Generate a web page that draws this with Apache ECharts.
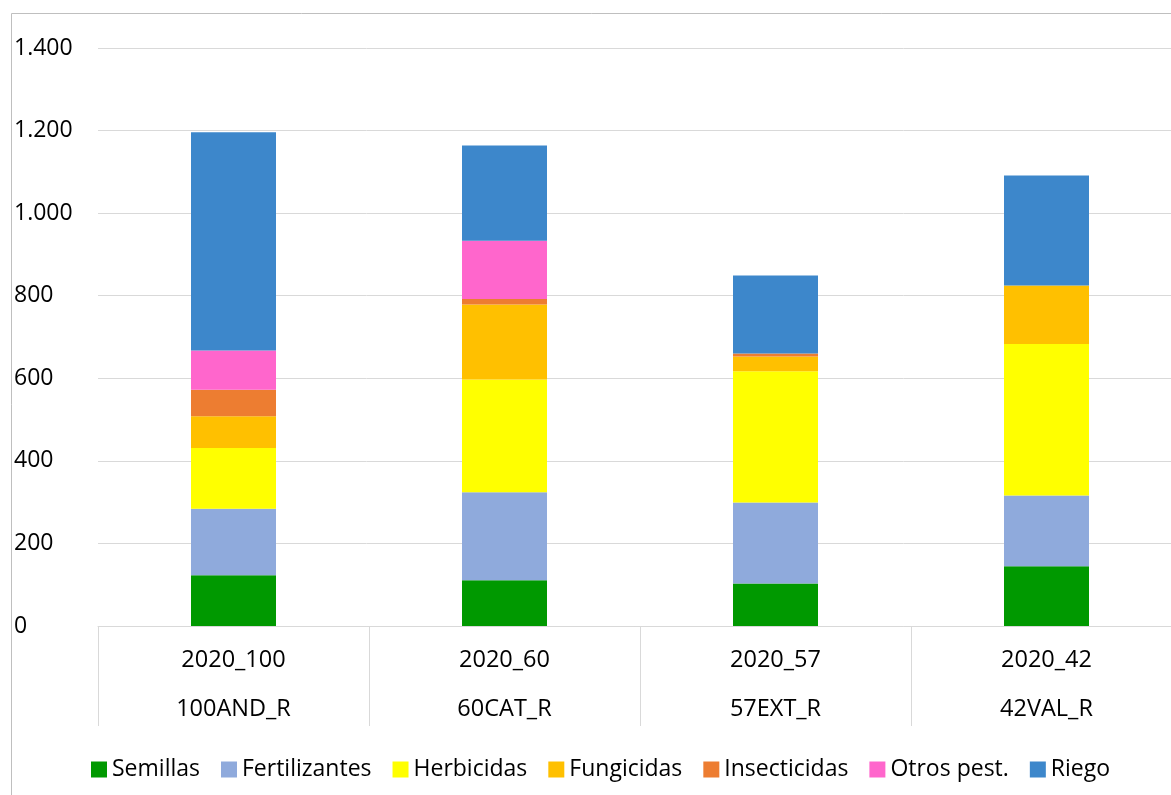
<!DOCTYPE html>
<html><head><meta charset="utf-8">
<script src="https://cdn.jsdelivr.net/npm/echarts@6/dist/echarts.min.js"></script>
<style>html,body{margin:0;padding:0;background:#fff}#c{width:1171px;height:795px}</style>
</head><body><div id="c"></div>
<script>
const categories = ['2020_100\n100AND_R', '2020_60\n60CAT_R', '2020_57\n57EXT_R', '2020_42\n42VAL_R'];
const semillas = [123, 111, 103, 145];
const fertilizantes = [161, 213, 196, 171];
const herbicidas = [147, 273, 318, 367];
const fungicidas = [77, 182, 36, 142];
const insecticidas = [64, 13, 7, 0];
const otros = [95, 141, 0, 0];
const riego = [529, 231, 189, 266];
const seriesNames = ['Semillas', 'Fertilizantes', 'Herbicidas', 'Fungicidas', 'Insecticidas', 'Otros pest.', 'Riego'];
const seriesData = [semillas, fertilizantes, herbicidas, fungicidas, insecticidas, otros, riego];
const colors = ['#009900', '#8faadc', '#ffff00', '#ffc000', '#ed7d31', '#ff66cc', '#3d87cb'];

const font = '"Open Sans", "Noto Sans", sans-serif';
const chart = echarts.init(document.getElementById('c'));
chart.setOption({
  animation: false,
  textStyle: { fontFamily: font },
  graphic: [{
    type: 'rect', shape: { x: 11.5, y: 13.5, width: 1300, height: 900 },
    style: { fill: 'none', stroke: '#bfbfbf', lineWidth: 1 }, silent: true, z: -10
  }],
  grid: { left: 98, width: 1084, top: 48, bottom: 169, outerBoundsMode: 'none', containLabel: false },
  legend: {
    bottom: 9, left: 86, itemWidth: 16, itemHeight: 16, itemGap: 21,
    icon: 'rect',
    textStyle: { fontSize: 23, color: '#000', fontFamily: font },
    data: seriesNames
  },
  xAxis: {
    type: 'category', data: categories,
    axisLine: { show: true, lineStyle: { color: '#d9d9d9' } },
    axisTick: { show: true, length: 100, interval: 0, lineStyle: { color: '#d9d9d9', width: 1 } },
    axisLabel: { fontSize: 23.5, color: '#000', lineHeight: 49, margin: 10, fontFamily: font }
  },
  yAxis: {
    type: 'value', min: 0, max: 1400, interval: 200,
    axisLine: { show: false }, axisTick: { show: false },
    splitLine: { lineStyle: { color: '#d9d9d9' } },
    axisLabel: {
      fontSize: 23, color: '#000', align: 'left', margin: 84, fontFamily: font,
      formatter: v => v.toLocaleString('de-DE')
    }
  },
  series: seriesNames.map((n, i) => ({
    name: n, type: 'bar', stack: 'total', data: seriesData[i], barWidth: 85,
    itemStyle: { color: colors[i] }
  }))
});
</script></body></html>
